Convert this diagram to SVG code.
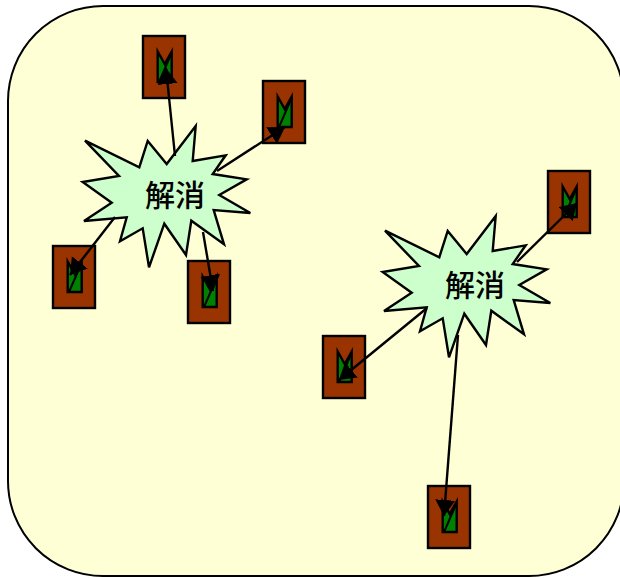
<svg xmlns="http://www.w3.org/2000/svg" xmlns:xlink="http://www.w3.org/1999/xlink" width="620" height="578" viewBox="0 0 620 578">
<style>
.bg{fill:#ffffd5;stroke:#000;stroke-width:2}
.star{fill:#ccffcc;stroke:#000;stroke-width:2.400;stroke-linejoin:miter}
.lbl{font-family:"Noto Sans CJK JP","Noto Sans CJK SC",sans-serif;font-size:30px;font-weight:500;fill:#000;text-anchor:middle}
.box{fill:#993300;stroke:#000;stroke-width:2.400}
.leaf{fill:#008000;stroke:#000;stroke-width:2.400;stroke-linejoin:miter}
.con{stroke:#000;stroke-width:2.400;fill:none;marker-end:url(#arr)}
</style>
<defs>
<marker id="arr" markerUnits="userSpaceOnUse" markerWidth="18" markerHeight="22" refX="16" refY="10" orient="auto"><path d="M0 0L16 10L0 20Z" fill="#000"/></marker>
<g id="icon">
<rect class="box" x="0" y="0" width="42" height="62"/>
<path class="leaf" d="M14.700 15.500L21.700 28L28.700 15.500V46H14.700Z"/>
<path d="M28.700 17L16 46" stroke="#000" stroke-width="2" fill="none"/>
</g>
<path id="burst" class="star" d="M85 140.700L139.300 167.300L147.700 141L166.700 164L195.700 126L192.700 161L225.700 155.300L212.700 174L246.700 179.300L219.300 195L250.300 213L213.700 210L224 244.300L191.300 220.700L186 255L164.300 223.700L149 267.300L142.700 228.300L120 241.300L126.700 217.300L84 221L111.700 202.700L82.700 182L119 176Z"/>
</defs>
<rect id="frame" class="bg" x="8" y="6" width="616" height="570" rx="95" ry="95"/>
<g id="icon1"><use xlink:href="#icon" x="143" y="36"/></g>
<g id="icon2"><use xlink:href="#icon" x="263" y="81"/></g>
<g id="icon3"><use xlink:href="#icon" x="53" y="246"/></g>
<g id="icon4"><use xlink:href="#icon" x="188" y="261"/></g>
<g id="icon5"><use xlink:href="#icon" x="548" y="171"/></g>
<g id="icon6"><use xlink:href="#icon" x="323" y="336"/></g>
<g id="icon7"><use xlink:href="#icon" x="428" y="486"/></g>
<g id="star1"><use xlink:href="#burst"/><text class="lbl" x="175" y="206">解消</text></g>
<g id="star2"><use xlink:href="#burst" x="300" y="90"/><text class="lbl" x="475" y="296">解消</text></g>
<g id="connectors">
<line class="con" x1="175" y1="156" x2="166" y2="68"/>
<line class="con" x1="217" y1="171" x2="285" y2="127"/>
<line class="con" x1="115" y1="217" x2="70" y2="275"/>
<line class="con" x1="203" y1="232" x2="213" y2="291"/>
<line class="con" x1="517" y1="262" x2="577" y2="203"/>
<line class="con" x1="427" y1="308" x2="339" y2="380"/>
<line class="con" x1="458" y1="335" x2="444" y2="516"/>
</g>
</svg>
